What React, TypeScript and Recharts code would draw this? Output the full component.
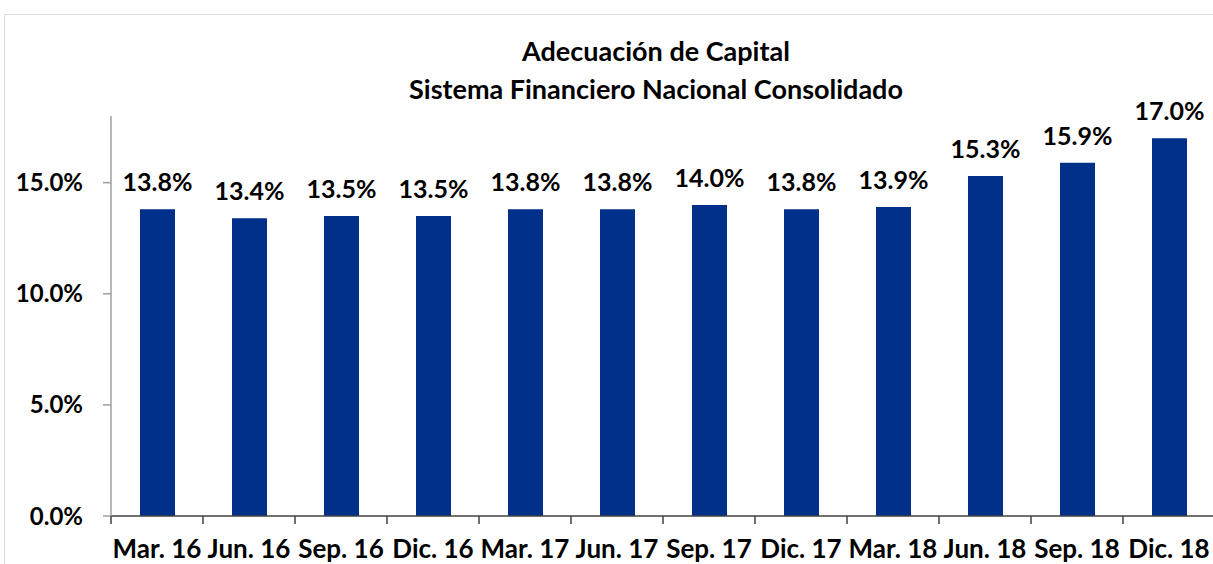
import { BarChart, Bar, XAxis, YAxis, LabelList } from 'recharts';

const periods = [
  'Mar. 16',
  'Jun. 16',
  'Sep. 16',
  'Dic. 16',
  'Mar. 17',
  'Jun. 17',
  'Sep. 17',
  'Dic. 17',
  'Mar. 18',
  'Jun. 18',
  'Sep. 18',
  'Dic. 18',
];

const adecuacion = [13.8, 13.4, 13.5, 13.5, 13.8, 13.8, 14.0, 13.8, 13.9, 15.3, 15.9, 17.0];

const yTicks = [0, 5, 10, 15];

const data = periods.map((p, i) => ({ periodo: p, valor: adecuacion[i] }));

const font = 'Lato, "Open Sans", sans-serif';
const barColor = '#00308a';

const pct = (v: number) => `${v.toFixed(1)}%`;

// excel-style category axis: tick marks sit between the categories
const CategoryTick = (props: any) => {
  const { x, y, payload, width, visibleTicksCount } = props;
  const half = width && visibleTicksCount ? width / visibleTicksCount / 2 : 46;
  return (
    <g>
      <line x1={x - half} x2={x - half} y1={y} y2={y + 8} stroke="#404040" strokeWidth={1.5} />
      <text
        x={x}
        y={y + 24}
        dy="0.71em"
        textAnchor="middle"
        fill="#000"
        fontSize={26}
        fontWeight={700}
        fontFamily={font}
      >
        {payload.value}
      </text>
    </g>
  );
};

export default function App() {
  return (
    <div
      style={{
        position: 'absolute',
        left: 0,
        top: 0,
        width: 1213,
        height: 564,
        overflow: 'hidden',
        background: '#fff',
        fontFamily: font,
      }}
    >
      <div
        style={{
          position: 'absolute',
          left: 4,
          top: 14,
          width: 1300,
          height: 700,
          border: '1px solid #dcdcdc',
        }}
      />
      <div
        style={{
          position: 'absolute',
          left: 306,
          width: 700,
          top: 32,
          textAlign: 'center',
          fontWeight: 700,
          fontSize: 27,
          lineHeight: '38px',
          color: '#000',
        }}
      >
        Adecuación de Capital
        <br />
        Sistema Financiero Nacional Consolidado
      </div>
      <div style={{ position: 'absolute', left: 0, top: 0 }}>
        <BarChart
          width={1230}
          height={564}
          data={data}
          margin={{ top: 116, right: 15, left: 0, bottom: 0 }}
        >
          <XAxis
            dataKey="periodo"
            height={48}
            interval={0}
            axisLine={{ stroke: '#404040', strokeWidth: 1.5 }}
            tickLine={false}
            tickSize={0}
            tickMargin={0}
            tick={<CategoryTick />}
          />
          <YAxis
            width={111}
            domain={[0, 18]}
            ticks={yTicks}
            allowDataOverflow
            tickFormatter={pct}
            axisLine={{ stroke: '#a0a0a0', strokeWidth: 1.5 }}
            tickLine={{ stroke: '#a0a0a0', strokeWidth: 1.5 }}
            tickSize={8}
            tickMargin={20}
            tick={{ fill: '#000', fontSize: 24, fontWeight: 700, fontFamily: font }}
          />
          <Bar dataKey="valor" fill={barColor} barSize={35} isAnimationActive={false}>
            <LabelList
              dataKey="valor"
              position="top"
              offset={18}
              formatter={(v: number) => pct(v)}
              style={{ fill: '#000', fontSize: 25, fontWeight: 700, fontFamily: font }}
            />
          </Bar>
        </BarChart>
      </div>
    </div>
  );
}
